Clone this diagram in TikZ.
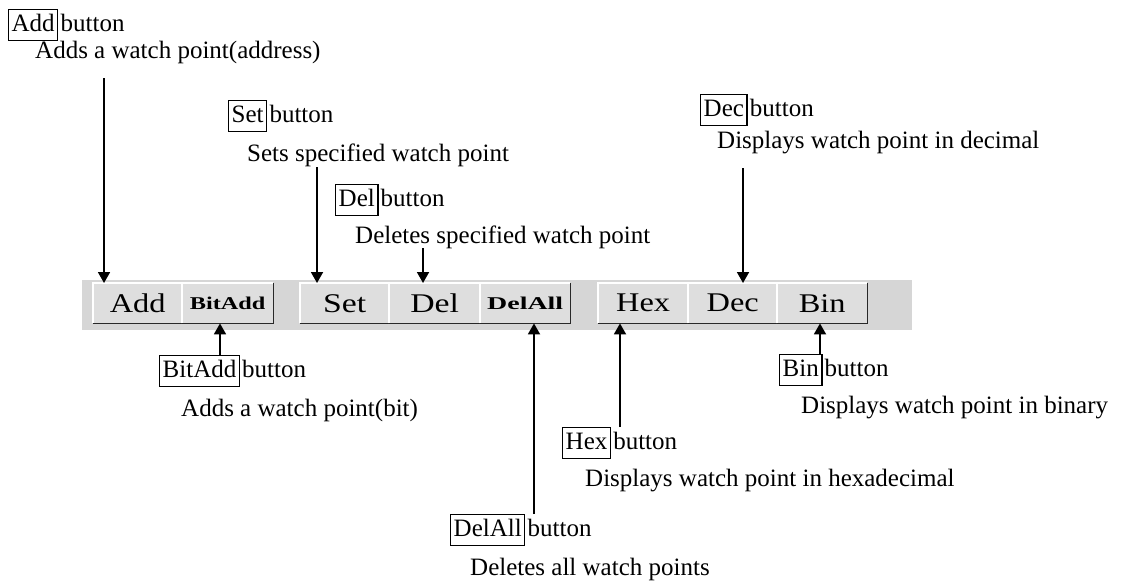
\documentclass[tikz,border=0pt]{standalone}
\usepackage{fontspec}
\setmainfont{Liberation Serif}
\usetikzlibrary{arrows.meta}
\definecolor{bandgray}{RGB}{214,214,214}
\definecolor{facegray}{RGB}{222,222,222}
\definecolor{edgedark}{RGB}{40,40,40}
\tikzset{
  lab/.style={font=\fontsize{25}{30}\selectfont, inner sep=0pt, anchor=base west},
  namebox/.style={draw, line width=1.4pt, font=\fontsize{25}{30}\selectfont,
    inner xsep=3pt, inner ysep=3.5pt, text height=18pt, text depth=5.5pt, anchor=west},
  tbtn/.style={fill=facegray, minimum height=40pt, inner sep=0pt, anchor=north west,
    font=\fontsize{27}{30}\selectfont},
  smallbtn/.style={tbtn, font=\fontsize{18}{20}\selectfont\bfseries},
  arr/.style={line width=1.8pt, -{Triangle[length=11pt,width=12pt]}},
}
\begin{document}
\begin{tikzpicture}[x=1pt,y=-1pt]
\useasboundingbox (0,0) rectangle (1138,581);
% toolbar band
\fill[bandgray] (82,280) rectangle (912,330);
% buttons
\node[tbtn, minimum width=89pt] (addb) at (93,283) {\scalebox{1.2}[1]{Add}};
\node[smallbtn, minimum width=91pt] (bitaddb) at (182,283) {\scalebox{1.35}[1]{BitAdd}};
\node[tbtn, minimum width=89pt] (setb) at (300,283) {\scalebox{1.25}[1]{Set}};
\node[tbtn, minimum width=91pt] (delb) at (389,283) {\scalebox{1.25}[1]{Del}};
\node[smallbtn, minimum width=90pt] (delallb) at (480,283) {\scalebox{1.55}[1]{DelAll}};
\node[tbtn, minimum width=90pt] (hexb) at (598,283) {\scalebox{1.2}[1]{Hex}};
\node[tbtn, minimum width=89pt] (decb) at (688,283) {\scalebox{1.2}[1]{Dec}};
\node[tbtn, minimum width=90pt] (binb) at (777,283) {\scalebox{1.2}[1]{Bin}};
\foreach \b in {addb,bitaddb,setb,delb,delallb,hexb,decb,binb}{
  \draw[white, line width=1.5pt] (\b.south west) |- (\b.north east);
  \draw[edgedark, line width=1.5pt] (\b.south west) -| (\b.north east);
}
% Add
\node[namebox] (addname) at (8,25) {Add};
\node[lab] (addword) at ([xshift=2pt]addname.base east) {button};
\node[lab] (adddesc) at (35,58) {Adds a watch point(address)};
% Set
\node[namebox] (setname) at (228,116) {Set};
\node[lab] (setword) at ([xshift=2pt]setname.base east) {button};
\node[lab] (setdesc) at (247,161) {Sets specified watch point};
% Del
\node[namebox] (delname) at (335,200) {Del};
\node[lab] (delword) at ([xshift=2pt]delname.base east) {button};
\node[lab] (deldesc) at (355,243) {Deletes specified watch point};
% Dec
\node[namebox] (decname) at (700,110) {Dec};
\node[lab] (decword) at ([xshift=2pt]decname.base east) {button};
\node[lab] (decdesc) at (717,148) {Displays watch point in decimal};
% BitAdd
\node[namebox] (bitaddname) at (159,371) {BitAdd};
\node[lab] (bitaddword) at ([xshift=2pt]bitaddname.base east) {button};
\node[lab] (bitadddesc) at (181,416) {Adds a watch point(bit)};
% Bin
\node[namebox] (binname) at (779,370) {Bin};
\node[lab] (binword) at ([xshift=2pt]binname.base east) {button};
\node[lab] (bindesc) at (801,413) {Displays watch point in binary};
% Hex
\node[namebox] (hexname) at (562,443) {Hex};
\node[lab] (hexword) at ([xshift=2pt]hexname.base east) {button};
\node[lab] (hexdesc) at (585,486) {Displays watch point in hexadecimal};
% DelAll
\node[namebox] (delallname) at (450,530) {DelAll};
\node[lab] (delallword) at ([xshift=2pt]delallname.base east) {button};
\node[lab] (delalldesc) at (470,575) {Deletes all watch points};
% down arrows
\coordinate (addtop) at (104,78);
\coordinate (settop) at (317,167);
\coordinate (deltop) at (423,248);
\coordinate (dectop) at (743,168);
\draw[arr] (addtop) -- (addtop |- addb.north);
\draw[arr] (settop) -- (settop |- setb.north);
\draw[arr] (deltop) -- (deltop |- delb.north);
\draw[arr] (dectop) -- (dectop |- decb.north);
% up arrows
\coordinate (bitx) at (220,0);
\coordinate (delallx) at (534,0);
\coordinate (hexx) at (620,0);
\coordinate (binx) at (820,0);
\draw[arr] (bitx |- bitaddname.north) -- (bitx |- bitaddb.south);
\draw[arr] (delallx |- delallname.north) -- (delallx |- delallb.south);
\draw[arr] (hexx |- hexname.north) -- (hexx |- hexb.south);
\draw[arr] (binx |- binname.north) -- (binx |- binb.south);
\end{tikzpicture}
\end{document}
